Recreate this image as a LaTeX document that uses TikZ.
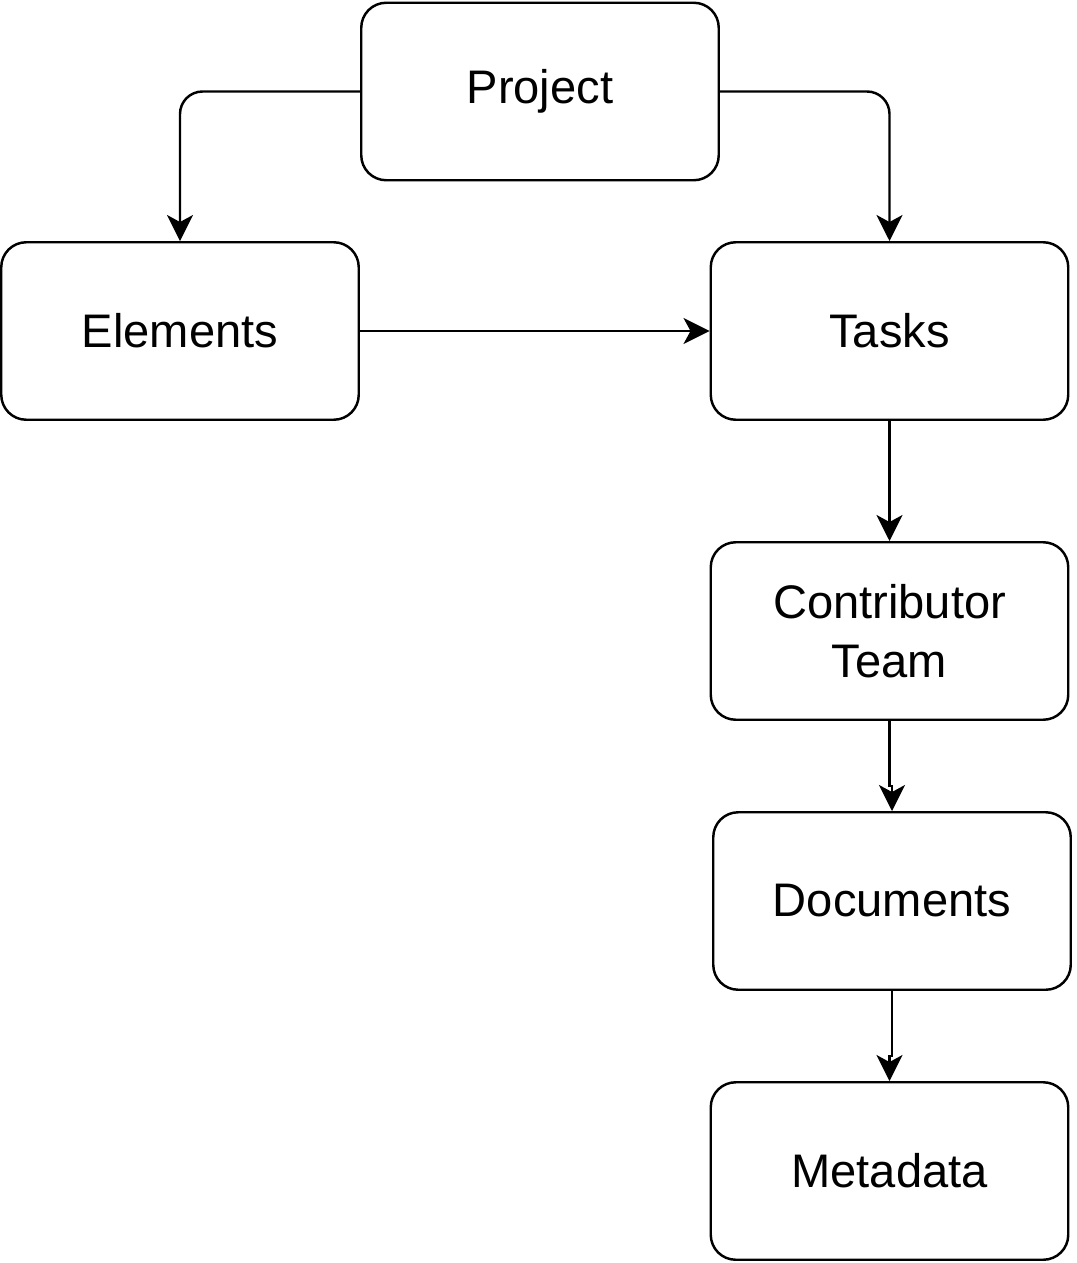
\documentclass[tikz,border=0pt]{standalone}
\usepackage{fontspec}
\setmainfont{Liberation Sans}
\usetikzlibrary{arrows.meta, positioning}

\begin{document}
\begin{tikzpicture}[
    item/.style={draw, line width=1.4pt, rounded corners=0.5cm, minimum width=7.15cm, minimum height=3.55cm, font=\fontsize{26.8}{33.5}\selectfont, align=center},
    link/.style={draw, line width=1.4pt, -{Stealth[length=0.52cm, width=0.52cm, inset=0.14cm]}}
]
    \useasboundingbox (0,0) rectangle (21.54,-25.26);

    \node[item] (proj) at (10.8,-1.83) {Project};
    \node[item] (elem) at (3.6,-6.62) {Elements};
    \node[item] (task) at (17.79,-6.62) {Tasks};
    \node[item] (team) at (17.79,-12.62) {Contributor\\Team};
    \node[item] (docs) at (17.84,-18.02) {Documents};
    \node[item] (meta) at (17.79,-23.42) {Metadata};

    \draw[link, rounded corners=0.45cm] (proj.west) -| (elem.north);
    \draw[link, rounded corners=0.45cm] (proj.east) -| (task.north);
    \draw[link] (elem) -- (task);
    \draw[link] (task) -- (team);
    \draw[link] (team.south) -- ++(0,-1.3) -| (docs.north);
    \draw[link] (docs.south) -- ++(0,-1.3) -| (meta.north);
\end{tikzpicture}
\end{document}
